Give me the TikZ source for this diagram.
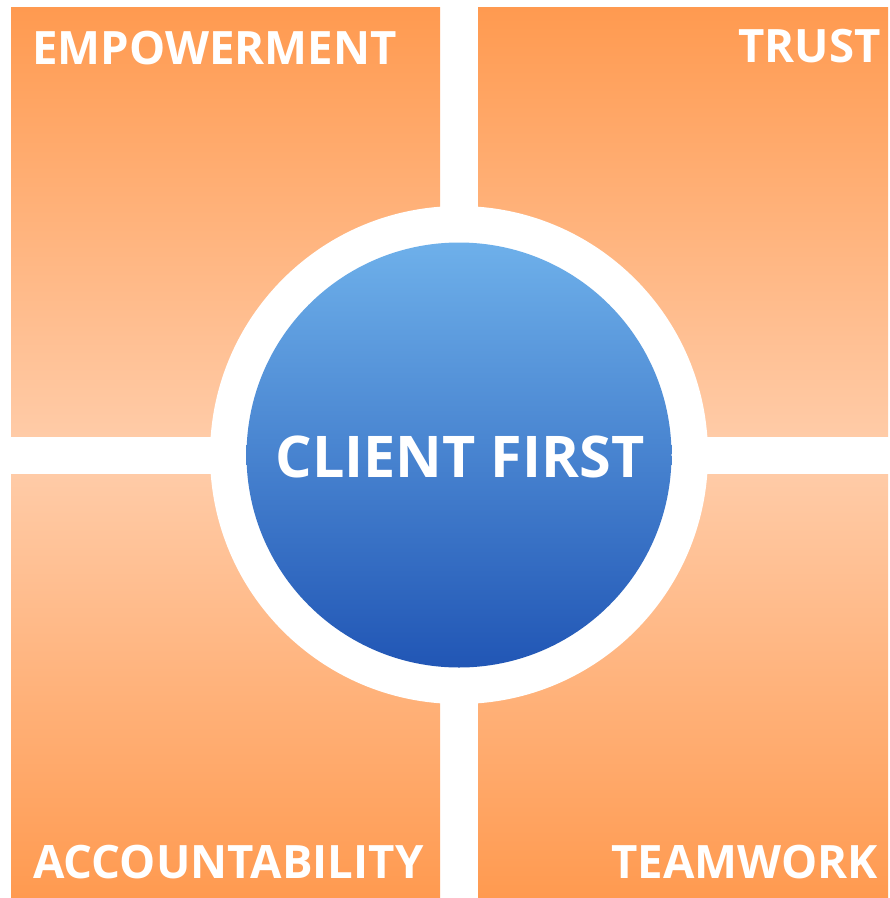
\documentclass[tikz,border=0pt]{standalone}
\usepackage{fontspec}
\setmainfont{Open Sans}
\definecolor{orangedark}{HTML}{FF9A50}
\definecolor{orangelight}{HTML}{FFCBA7}
\definecolor{bluelight}{HTML}{6EB0EA}
\definecolor{bluedark}{HTML}{2156B5}
\tikzset{
  tile/.style={top color=orangedark,bottom color=orangelight,draw=none},
  tiledown/.style={top color=orangelight,bottom color=orangedark,draw=none},
  word/.style={text=white,font=\bfseries\fontsize{46}{46}\selectfont,inner sep=0pt,xscale=0.99}
}

\begin{document}
\begin{tikzpicture}[x=1pt,y=-1pt]
					\useasboundingbox[fill=white](0,0) rectangle (890,898);
					% the four squares
					\shade[tile](11,7) rectangle (440,436);
					\shade[tile](478,7) rectangle (888,436);
					\shade[tiledown](11,474) rectangle (440,897);
					\shade[tiledown](478,474) rectangle (888,897);
					
					% ring and centre
					\fill[white](459,455) circle (249);
					\shade[top color=bluelight,bottom color=bluedark](459,455) circle (212.5);
					
					\node[word,anchor=base west] (empowerment) at (32,64) {EMPOWERMENT};
					\node[word,anchor=base east] (trust) at (881,62) {TRUST};
					\node[word,anchor=base west] (accountability) at (33,878) {ACCOUNTABILITY};
					\node[word,anchor=base east] (teamwork) at (878,878) {TEAMWORK};
					\node[word,xscale=1.0101,font=\bfseries\fontsize{57.5}{57.5}\selectfont,anchor=base] (client) at (460,477) {CLIENT FIRST};
						\end{tikzpicture}
\end{document}
